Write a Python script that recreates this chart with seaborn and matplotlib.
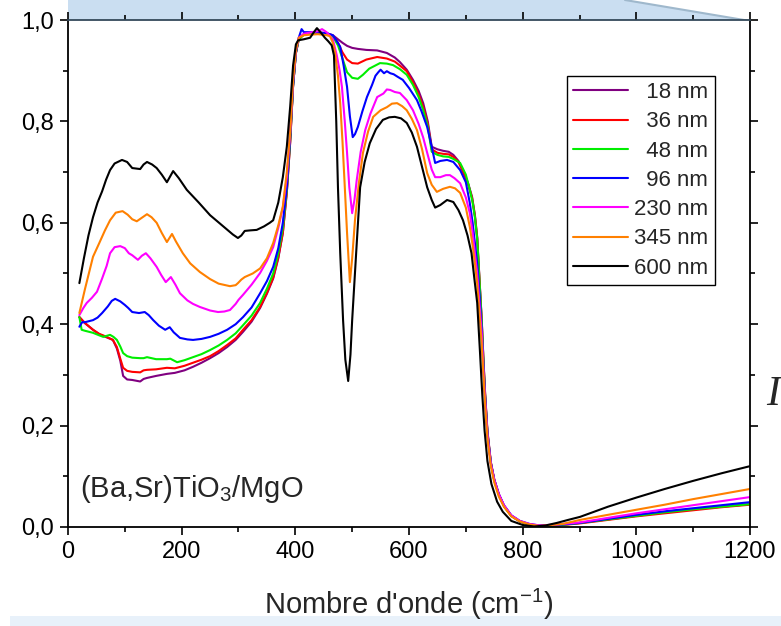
import numpy as np
import pandas as pd
import matplotlib
matplotlib.use("Agg")
import matplotlib.pyplot as plt
from matplotlib.ticker import MultipleLocator, FuncFormatter
from matplotlib.patches import Polygon, Rectangle
import seaborn as sns

# ---------------- data: reflectivity vs wavenumber for each film thickness ----------------
labels = ["18 nm", "36 nm", "48 nm", "96 nm", "230 nm", "345 nm", "600 nm"]
colors = ["#800080", "#ff0000", "#00ee00", "#0000ff", "#ff00ff", "#ff8000", "#000000"]

x_18 = [20, 30, 44, 55, 66, 79, 86, 92, 97, 104, 113, 127, 133, 139, 155, 174, 188, 205, 220, 235,
        250, 265, 280, 295, 308, 323, 338, 350, 361, 370, 378, 385, 391, 396, 401, 406, 415, 425,
        440, 455, 466, 475, 483, 491, 500, 510, 525, 544, 561, 575, 584, 596, 607, 617, 625, 633,
        640, 650, 660, 670, 678, 687, 695, 704, 711, 716, 720, 724, 728, 731, 734, 738, 744, 750,
        758, 767, 780, 795, 812, 830, 860, 900, 950, 1000, 1050, 1100, 1150, 1200]
y_18 = [0.414, 0.402, 0.389, 0.380, 0.375, 0.369, 0.352, 0.328, 0.298, 0.291, 0.290, 0.287, 0.292,
        0.294, 0.298, 0.302, 0.304, 0.309, 0.316, 0.324, 0.333, 0.343, 0.355, 0.369, 0.385, 0.405,
        0.432, 0.460, 0.490, 0.530, 0.580, 0.660, 0.760, 0.870, 0.935, 0.962, 0.972, 0.975, 0.976,
        0.974, 0.970, 0.962, 0.955, 0.949, 0.945, 0.943, 0.941, 0.940, 0.935, 0.926, 0.917, 0.902,
        0.882, 0.860, 0.836, 0.800, 0.750, 0.745, 0.742, 0.740, 0.734, 0.722, 0.704, 0.678, 0.651,
        0.615, 0.572, 0.490, 0.408, 0.330, 0.262, 0.190, 0.128, 0.094, 0.065, 0.042, 0.022, 0.011,
        0.005, 0.002, 0.003, 0.008, 0.015, 0.022, 0.029, 0.035, 0.040, 0.045]

x_36 = [20, 30, 44, 55, 66, 79, 86, 92, 97, 104, 113, 127, 133, 139, 155, 174, 188, 205, 220, 235,
        250, 265, 280, 295, 308, 323, 338, 350, 361, 370, 378, 385, 391, 396, 401, 406, 415, 425,
        440, 455, 466, 475, 483, 491, 500, 510, 525, 544, 561, 575, 584, 596, 607, 617, 625, 633,
        640, 650, 660, 670, 678, 687, 695, 704, 711, 716, 720, 724, 728, 731, 734, 738, 744, 750,
        758, 767, 780, 795, 812, 830, 860, 900, 950, 1000, 1050, 1100, 1150, 1200]
y_36 = [0.414, 0.402, 0.389, 0.381, 0.376, 0.369, 0.355, 0.332, 0.314, 0.308, 0.306, 0.305, 0.309,
        0.310, 0.311, 0.314, 0.313, 0.318, 0.324, 0.330, 0.337, 0.347, 0.359, 0.372, 0.389, 0.408,
        0.434, 0.462, 0.492, 0.532, 0.580, 0.660, 0.760, 0.870, 0.935, 0.962, 0.972, 0.974, 0.975,
        0.972, 0.968, 0.955, 0.936, 0.922, 0.915, 0.914, 0.922, 0.927, 0.924, 0.918, 0.910, 0.899,
        0.877, 0.853, 0.828, 0.795, 0.745, 0.738, 0.736, 0.735, 0.730, 0.720, 0.700, 0.676, 0.649,
        0.613, 0.570, 0.488, 0.406, 0.328, 0.260, 0.188, 0.127, 0.093, 0.064, 0.042, 0.022, 0.011,
        0.005, 0.002, 0.003, 0.007, 0.014, 0.021, 0.027, 0.033, 0.039, 0.044]

x_48 = [20, 24, 30, 44, 55, 62, 74, 80, 86, 92, 97, 104, 113, 127, 133, 139, 155, 174, 180, 192,
        205, 220, 235, 250, 265, 280, 295, 308, 323, 338, 350, 361, 370, 378, 385, 391, 396, 401,
        406, 415, 425, 440, 455, 466, 475, 483, 491, 500, 510, 519, 530, 549, 561, 572, 584, 596,
        607, 617, 625, 633, 640, 650, 660, 670, 678, 690, 700, 707, 712, 716, 720, 724, 728, 731,
        734, 738, 744, 750, 758, 767, 780, 795, 812, 830, 860, 900, 950, 1000, 1050, 1100, 1150, 1200]
y_48 = [0.414, 0.389, 0.387, 0.383, 0.378, 0.375, 0.379, 0.375, 0.369, 0.356, 0.343, 0.337, 0.334,
        0.333, 0.333, 0.335, 0.331, 0.331, 0.332, 0.325, 0.329, 0.335, 0.341, 0.349, 0.358, 0.369,
        0.382, 0.398, 0.417, 0.442, 0.470, 0.500, 0.540, 0.590, 0.665, 0.765, 0.870, 0.935, 0.962,
        0.971, 0.973, 0.974, 0.972, 0.968, 0.950, 0.924, 0.897, 0.886, 0.884, 0.892, 0.904, 0.915,
        0.914, 0.911, 0.903, 0.892, 0.872, 0.848, 0.822, 0.790, 0.740, 0.734, 0.731, 0.730, 0.726,
        0.718, 0.695, 0.665, 0.640, 0.610, 0.568, 0.486, 0.404, 0.326, 0.258, 0.186, 0.126, 0.092,
        0.064, 0.041, 0.022, 0.011, 0.005, 0.002, 0.003, 0.008, 0.015, 0.022, 0.029, 0.035, 0.040,
        0.045]

x_96 = [20, 25, 30, 44, 52, 60, 70, 77, 83, 92, 100, 106, 113, 125, 135, 142, 150, 160, 171, 179,
        186, 197, 210, 220, 235, 250, 265, 280, 295, 308, 323, 338, 350, 361, 370, 378, 385, 391,
        396, 401, 406, 411, 415, 425, 440, 455, 466, 475, 479, 485, 491, 496, 501, 505, 510, 518,
        526, 535, 541, 546, 550, 556, 561, 567, 573, 580, 589, 600, 614, 622, 632, 640, 646, 655,
        667, 678, 690, 700, 707, 712, 716, 720, 724, 728, 731, 734, 738, 744, 750, 758, 767, 780,
        795, 812, 830, 860, 900, 950, 1000, 1050, 1100, 1150, 1200]
y_96 = [0.395, 0.404, 0.404, 0.408, 0.413, 0.422, 0.435, 0.446, 0.450, 0.445, 0.438, 0.432, 0.424,
        0.422, 0.424, 0.418, 0.408, 0.397, 0.389, 0.394, 0.384, 0.373, 0.370, 0.369, 0.371, 0.375,
        0.381, 0.389, 0.400, 0.414, 0.433, 0.461, 0.485, 0.513, 0.550, 0.600, 0.670, 0.770, 0.870,
        0.935, 0.965, 0.982, 0.976, 0.976, 0.975, 0.974, 0.970, 0.955, 0.947, 0.910, 0.868, 0.810,
        0.769, 0.775, 0.789, 0.820, 0.848, 0.872, 0.890, 0.897, 0.902, 0.895, 0.899, 0.895, 0.893,
        0.888, 0.882, 0.866, 0.842, 0.820, 0.789, 0.750, 0.718, 0.722, 0.724, 0.720, 0.704, 0.680,
        0.639, 0.600, 0.560, 0.520, 0.460, 0.390, 0.318, 0.255, 0.185, 0.126, 0.093, 0.065, 0.043,
        0.023, 0.012, 0.006, 0.003, 0.004, 0.008, 0.016, 0.024, 0.031, 0.037, 0.043, 0.049]

x_230 = [20, 27, 33, 42, 51, 60, 68, 74, 82, 92, 100, 107, 113, 123, 130, 137, 145, 156, 164, 172,
         181, 189, 197, 210, 220, 232, 250, 264, 275, 285, 295, 300, 308, 323, 338, 350, 361, 370,
         378, 385, 391, 396, 401, 406, 415, 425, 440, 447, 455, 466, 473, 478, 482, 487, 491, 495,
         500, 504, 508, 515, 523, 532, 544, 555, 561, 567, 575, 584, 596, 607, 617, 625, 632, 640,
         646, 655, 665, 672, 680, 690, 700, 707, 712, 716, 720, 724, 728, 731, 734, 738, 744, 750,
         758, 767, 780, 795, 812, 830, 860, 900, 950, 1000, 1050, 1100, 1150, 1200]
y_230 = [0.418, 0.432, 0.442, 0.452, 0.464, 0.490, 0.515, 0.540, 0.552, 0.554, 0.550, 0.540, 0.536,
         0.527, 0.535, 0.540, 0.530, 0.513, 0.497, 0.483, 0.493, 0.478, 0.461, 0.447, 0.440, 0.434,
         0.427, 0.424, 0.425, 0.428, 0.440, 0.448, 0.458, 0.478, 0.501, 0.525, 0.552, 0.590, 0.630,
         0.690, 0.780, 0.880, 0.940, 0.965, 0.973, 0.975, 0.978, 0.982, 0.976, 0.962, 0.930, 0.900,
         0.868, 0.800, 0.738, 0.670, 0.619, 0.645, 0.684, 0.740, 0.783, 0.815, 0.848, 0.855, 0.863,
         0.862, 0.858, 0.856, 0.842, 0.822, 0.795, 0.768, 0.738, 0.705, 0.690, 0.690, 0.694, 0.694,
         0.688, 0.678, 0.650, 0.619, 0.580, 0.540, 0.500, 0.440, 0.380, 0.310, 0.250, 0.182, 0.125,
         0.093, 0.065, 0.043, 0.023, 0.012, 0.006, 0.003, 0.005, 0.009, 0.018, 0.027, 0.035, 0.043,
         0.051, 0.059]

x_345 = [20, 30, 44, 55, 65, 74, 84, 96, 105, 113, 121, 130, 139, 147, 156, 165, 174, 183, 190, 202,
         215, 232, 250, 265, 285, 295, 299, 305, 311, 325, 338, 350, 361, 370, 378, 385, 391, 396,
         401, 406, 415, 425, 440, 455, 461, 466, 470, 475, 479, 483, 487, 491, 496, 500, 505, 512,
         519, 528, 537, 550, 561, 570, 579, 588, 596, 605, 614, 623, 632, 640, 649, 660, 672, 681,
         690, 700, 707, 712, 716, 720, 724, 728, 731, 734, 738, 744, 750, 758, 767, 780, 795, 812,
         830, 870, 901, 950, 1000, 1050, 1100, 1150, 1200]
y_345 = [0.422, 0.470, 0.533, 0.560, 0.585, 0.605, 0.620, 0.623, 0.616, 0.607, 0.603, 0.610, 0.617,
         0.611, 0.600, 0.580, 0.562, 0.578, 0.563, 0.540, 0.520, 0.503, 0.489, 0.480, 0.475, 0.477,
         0.481, 0.488, 0.493, 0.500, 0.510, 0.530, 0.560, 0.595, 0.632, 0.700, 0.780, 0.880, 0.940,
         0.965, 0.970, 0.971, 0.972, 0.970, 0.968, 0.955, 0.935, 0.890, 0.836, 0.760, 0.671, 0.580,
         0.483, 0.530, 0.606, 0.680, 0.738, 0.780, 0.809, 0.822, 0.828, 0.835, 0.836, 0.830, 0.822,
         0.805, 0.783, 0.745, 0.698, 0.675, 0.661, 0.667, 0.671, 0.668, 0.659, 0.630, 0.592, 0.555,
         0.520, 0.480, 0.420, 0.360, 0.300, 0.240, 0.175, 0.120, 0.088, 0.060, 0.040, 0.021, 0.011,
         0.005, 0.002, 0.006, 0.014, 0.024, 0.034, 0.044, 0.055, 0.065, 0.075]

x_600 = [20, 28, 36, 44, 52, 60, 67, 74, 82, 95, 104, 113, 127, 133, 139, 148, 156, 165, 174, 180,
         185, 195, 209, 230, 250, 270, 290, 299, 305, 311, 320, 332, 345, 355, 361, 370, 378, 385,
         391, 396, 401, 405, 415, 426, 432, 438, 445, 452, 458, 464, 468, 472, 475, 479, 484, 488,
         493, 497, 500, 507, 514, 522, 531, 542, 554, 565, 575, 586, 596, 605, 614, 623, 632, 640,
         646, 655, 667, 678, 687, 695, 703, 710, 715, 720, 725, 729, 733, 738, 745, 755, 765, 780,
         800, 820, 840, 860, 880, 901, 950, 1000, 1050, 1100, 1150, 1200]
y_600 = [0.481, 0.530, 0.575, 0.611, 0.640, 0.662, 0.685, 0.704, 0.717, 0.724, 0.720, 0.708, 0.706,
         0.715, 0.720, 0.715, 0.708, 0.695, 0.680, 0.692, 0.702, 0.688, 0.665, 0.640, 0.615, 0.596,
         0.577, 0.570, 0.575, 0.584, 0.585, 0.586, 0.593, 0.600, 0.605, 0.640, 0.690, 0.750, 0.830,
         0.910, 0.952, 0.960, 0.962, 0.965, 0.975, 0.984, 0.975, 0.965, 0.958, 0.950, 0.930, 0.800,
         0.670, 0.540, 0.408, 0.330, 0.288, 0.340, 0.408, 0.540, 0.670, 0.720, 0.757, 0.785, 0.803,
         0.808, 0.809, 0.806, 0.797, 0.778, 0.750, 0.710, 0.670, 0.645, 0.630, 0.635, 0.645, 0.641,
         0.625, 0.605, 0.575, 0.540, 0.490, 0.442, 0.343, 0.260, 0.190, 0.130, 0.085, 0.050, 0.030,
         0.012, 0.004, 0.001, 0.003, 0.008, 0.014, 0.020, 0.040, 0.058, 0.075, 0.091, 0.106, 0.120]

x_series = [x_18, x_36, x_48, x_96, x_230, x_345, x_600]
y_series = [y_18, y_36, y_48, y_96, y_230, y_345, y_600]

x_ticks = [0, 200, 400, 600, 800, 1000, 1200]
y_ticks = [0.0, 0.2, 0.4, 0.6, 0.8, 1.0]

frames = [pd.DataFrame({"wavenumber": xs, "reflectivity": ys, "epaisseur": lab})
          for xs, ys, lab in zip(x_series, y_series, labels)]
df = pd.concat(frames, ignore_index=True)

# ---------------- styling ----------------
sns.set_style("ticks")
plt.rcParams["font.family"] = ["Liberation Sans", "DejaVu Sans"]
plt.rcParams["mathtext.default"] = "regular"

fig = plt.figure(figsize=(7.81, 6.26), dpi=100)
ax = fig.add_axes([68 / 781, 1 - 527 / 626, 682 / 781, 507 / 626])

sns.lineplot(data=df, x="wavenumber", y="reflectivity", hue="epaisseur",
             hue_order=labels, palette=colors, sort=False, estimator=None,
             linewidth=1.5, ax=ax)

ax.set_xlim(0, 1200)
ax.set_ylim(0, 1.0)
ax.set_xticks(x_ticks)
ax.set_yticks(y_ticks)
ax.xaxis.set_minor_locator(MultipleLocator(100))
ax.yaxis.set_minor_locator(MultipleLocator(0.1))
ax.yaxis.set_major_formatter(FuncFormatter(lambda v, p: f"{v:.1f}".replace(".", ",")))
ax.xaxis.set_major_formatter(FuncFormatter(lambda v, p: f"{v:.0f}"))

for side in ["left", "right", "top", "bottom"]:
    ax.spines[side].set_visible(True)
    ax.spines[side].set_linewidth(1.3)
    ax.spines[side].set_color("black")
ax.spines["top"].set_color("#34495a")

ax.tick_params(which="both", direction="out", top=True, right=True,
               labeltop=False, labelright=False, width=1.2, colors="black")
ax.tick_params(which="major", length=6, labelsize=17, pad=4)
ax.tick_params(which="minor", length=3.5)

ax.set_ylabel("")
ax.set_xlabel("Nombre d'onde (cm$^{-1}$)", fontsize=21, labelpad=17)

ax.text(0.018, 0.06, "(Ba,Sr)TiO$_3$/MgO", transform=ax.transAxes,
        fontsize=21, va="baseline", ha="left")

# legend with right-aligned labels (two spaces = one digit width)
handles, _ = ax.get_legend_handles_labels()
maxlen = max(len(l) for l in labels)
padded = ["  " * (maxlen - len(l)) + l for l in labels]
leg = ax.legend(handles[:len(labels)], padded, loc="upper left",
                bbox_to_anchor=((567 - 68) / 682, (527 - 76) / 507),
                borderaxespad=0, fontsize=16, frameon=True, fancybox=False,
                edgecolor="black", framealpha=1, handlelength=2.45,
                handletextpad=0.3, labelspacing=0.37, borderpad=0.28)
leg.get_frame().set_linewidth(1.0)
for line in leg.get_lines():
    line.set_linewidth(1.5)

# slide banner above the plot frame
band = Polygon([(68 / 781, 1.0), (625 / 781, 1.0), (750 / 781, 1 - 21 / 626), (68 / 781, 1 - 21 / 626)],
               closed=True, transform=fig.transFigure, facecolor="#cadef1",
               edgecolor="none", zorder=-1)
fig.add_artist(band)
fig.add_artist(plt.Line2D([625 / 781, 750 / 781], [1.0, 1 - 21 / 626], transform=fig.transFigure,
                          color="#9fb8cc", linewidth=1.5, zorder=-1))
fig.add_artist(Rectangle((10 / 781, 0), 771 / 781, 10 / 626, transform=fig.transFigure,
                         facecolor="#e8f1fa", edgecolor="none", zorder=-1))
fig.text(780 / 781, 1 - 395 / 626, "I", fontsize=30, style="italic",
         family=["Liberation Serif", "DejaVu Serif"], ha="right", va="center")

fig.savefig("out.png", dpi=100)
